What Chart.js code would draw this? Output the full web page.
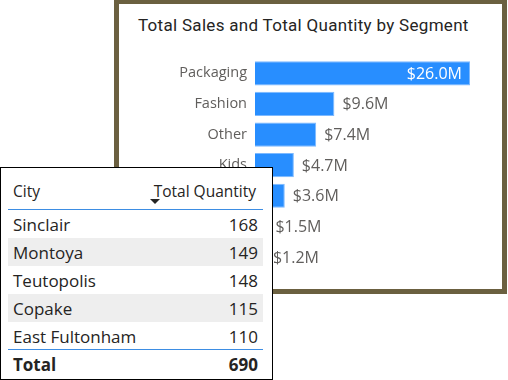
<!DOCTYPE html>
<html>
<head>
<meta charset="utf-8">
<script src="https://cdn.jsdelivr.net/npm/chart.js@4"></script>
<style>
  html,body{margin:0;padding:0;background:#fff;width:508px;height:380px;overflow:hidden;}
  #card{position:absolute;left:114px;top:-1px;width:393px;height:295px;box-sizing:border-box;border:5px solid #6b6040;background:#fff;}
  #title{position:absolute;left:138px;top:15px;font-family:Roboto,"DejaVu Sans",sans-serif;font-size:17px;line-height:20px;color:#252423;white-space:nowrap;letter-spacing:0.3px;}
  #cv{position:absolute;left:119px;top:4px;}
  #tbl{position:absolute;left:0;top:167px;width:273px;height:213px;box-sizing:border-box;border:1px solid #000;background:#fff;font-family:"Open Sans","Noto Sans",sans-serif;color:#252423;}
  .row{position:absolute;left:7px;width:255px;height:28px;}
  .row span{position:absolute;top:50%;transform:translateY(-50%);white-space:nowrap;font-size:17px;}
  .row .l{left:5px;}
  .row .r{right:5px;}
  .gray{background:#eeeeee;}
  .hdr span{font-size:15.5px;top:4px !important;transform:none !important;}
  .hdr .r{right:7px !important;}
  .line{position:absolute;left:7px;width:255px;height:1px;background:#3d8de3;}
  #arrow{position:absolute;left:149px;top:31px;width:0;height:0;border-left:5px solid transparent;border-right:5px solid transparent;border-top:5px solid #252423;}
  .tot span{font-weight:bold;}
</style>
</head>
<body>
<div id="card"></div>
<div id="title">Total Sales and Total Quantity by Segment</div>
<canvas id="cv" width="383" height="285"></canvas>
<div id="tbl"></div>
<script>
const segments = ["Packaging","Fashion","Other","Kids","Home","Sports","Toys"];
const salesM = [26.0, 9.6, 7.4, 4.7, 3.6, 1.5, 1.2];
const cities = ["Sinclair","Montoya","Teutopolis","Copake","East Fultonham"];
const quantities = [168, 149, 148, 115, 110];
const totalQuantity = 690;
const tableHeaders = ["City","Total Quantity"];

// Table (HTML)
const tbl = document.getElementById('tbl');
let html = '';
html += '<div class="row hdr" style="top:8px;"><span class="l">'+tableHeaders[0]+'</span><span class="r">'+tableHeaders[1]+'</span></div>';
html += '<div id="arrow"></div>';
html += '<div class="line" style="top:41px;"></div>';
cities.forEach((c,i)=>{
  const top = 42 + i*28;
  html += '<div class="row'+(i%2===1?' gray':'')+'" style="top:'+top+'px;"><span class="l">'+c+'</span><span class="r">'+quantities[i]+'</span></div>';
});
html += '<div class="line" style="top:181px;"></div>';
html += '<div class="row tot" style="top:182px;"><span class="l">Total</span><span class="r">'+totalQuantity+'</span></div>';
tbl.innerHTML = html;

const fmt = v => '$' + v.toFixed(1) + 'M';

const labelPlugin = {
  id:'valLabels',
  afterDatasetsDraw(chart){
    const ctx = chart.ctx;
    const meta = chart.getDatasetMeta(0);
    ctx.save();
    ctx.font = '16px "Open Sans","Noto Sans",sans-serif';
    ctx.textBaseline = 'middle';
    meta.data.forEach((bar,i)=>{
      const t = fmt(salesM[i]);
      const w = ctx.measureText(t).width;
      if (bar.x + 8 + w > chart.width - 4) {
        ctx.fillStyle = '#ffffff';
        ctx.textAlign = 'right';
        ctx.fillText(t, bar.x - 8, bar.y + 1);
      } else {
        ctx.fillStyle = '#605E5C';
        ctx.textAlign = 'left';
        ctx.fillText(t, bar.x + 8, bar.y + 1);
      }
    });
    ctx.restore();
  }
};

new Chart(document.getElementById('cv'), {
  type:'bar',
  data:{
    labels:segments,
    datasets:[{
      data:salesM,
      backgroundColor:'#288EFF',
      borderColor:'#7DB9FF',
      borderWidth:1,
      barPercentage:0.79,
      categoryPercentage:1
    }]
  },
  options:{
    indexAxis:'y',
    responsive:false,
    animation:false,
    devicePixelRatio:1,
    layout:{padding:{left:0,right:32,top:54,bottom:9}},
    plugins:{legend:{display:false},tooltip:{enabled:false}},
    scales:{
      x:{display:false,min:0,max:26},
      y:{
        grid:{display:false,drawTicks:false},
        border:{display:false},
        ticks:{color:'#605E5C',font:{family:'"Open Sans","Noto Sans",sans-serif',size:14.5},padding:8},
        afterFit(scale){ scale.width = 136; }
      }
    }
  },
  plugins:[labelPlugin]
});
</script>
</body>
</html>
